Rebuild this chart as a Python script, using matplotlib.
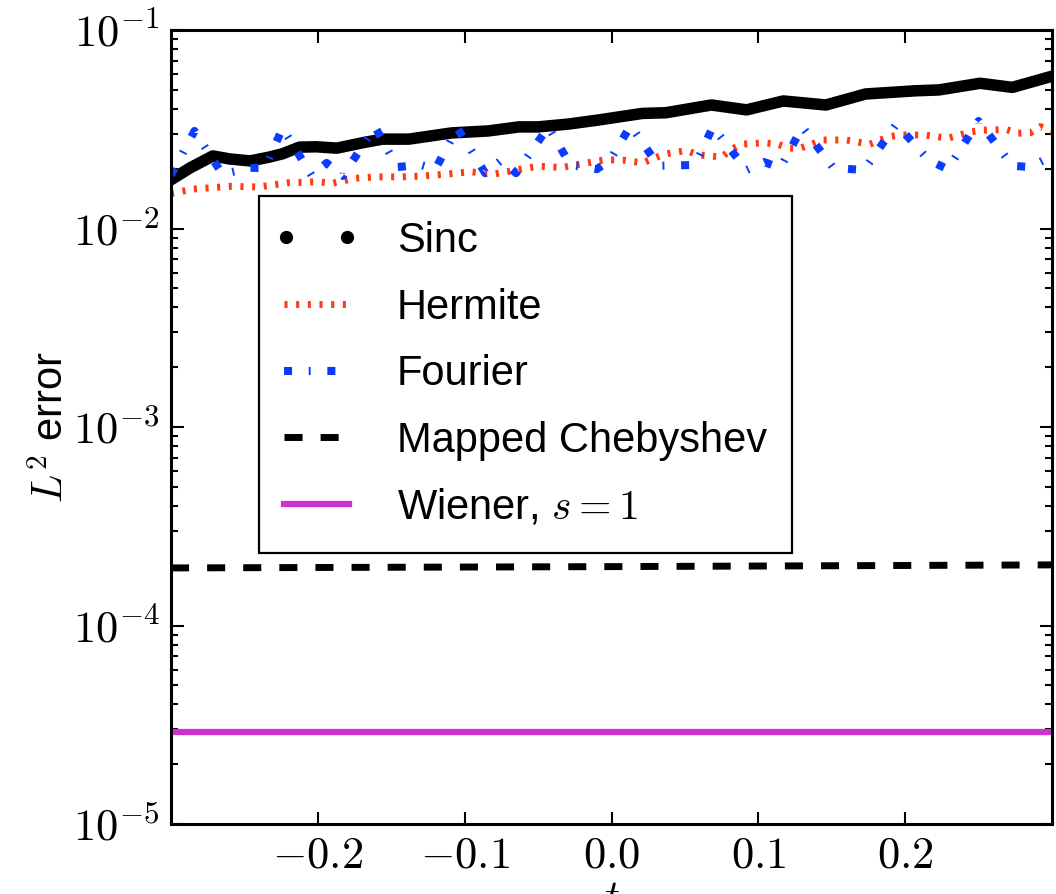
import numpy as np
import matplotlib
matplotlib.use("Agg")
import matplotlib.pyplot as plt
from matplotlib.lines import Line2D
from matplotlib.legend_handler import HandlerLine2D
from matplotlib.ticker import LogLocator, FixedLocator, FuncFormatter

plt.rcParams['font.family'] = ['Liberation Sans', 'DejaVu Sans']
plt.rcParams['mathtext.fontset'] = 'cm'
plt.rcParams['lines.scale_dashes'] = False

# ---- data ----
sinc_t = [-0.300, -0.287, -0.2715, -0.260, -0.246, -0.233, -0.224, -0.2125, -0.201,
          -0.187, -0.170, -0.156, -0.138, -0.109, -0.084, -0.063, -0.050, -0.029,
          -0.009, 0.021, 0.037, 0.068, 0.092, 0.117, 0.146, 0.173, 0.207, 0.223,
          0.251, 0.273, 0.300]
sinc_err = [0.0176, 0.0202, 0.0232, 0.0224, 0.0219, 0.0229, 0.0238, 0.0257, 0.0258,
            0.0254, 0.0270, 0.0282, 0.0282, 0.0303, 0.0310, 0.0325, 0.0325, 0.0336,
            0.0352, 0.0380, 0.0383, 0.0419, 0.0396, 0.0439, 0.0419, 0.0476, 0.0494,
            0.0499, 0.0539, 0.0514, 0.0585]

hermite_t = [-0.300, -0.285, -0.260, -0.240, -0.220, -0.200, -0.190, -0.175, -0.160,
             -0.143, -0.128, -0.112, -0.096, -0.080, -0.065, -0.050, -0.034, -0.018,
             -0.004, 0.008, 0.021, 0.036, 0.051, 0.059, 0.075, 0.082, 0.089, 0.104,
             0.113, 0.121, 0.128, 0.144, 0.160, 0.176, 0.189, 0.197, 0.213, 0.229,
             0.237, 0.245, 0.253, 0.269, 0.277, 0.285, 0.292, 0.300]
hermite_err = [0.0150, 0.0158, 0.0163, 0.0162, 0.0170, 0.0172, 0.0169, 0.0179, 0.0182,
               0.0182, 0.0184, 0.0188, 0.0193, 0.0188, 0.0197, 0.0206, 0.0203, 0.0213,
               0.0222, 0.0221, 0.0214, 0.0237, 0.0247, 0.0235, 0.0229, 0.0251, 0.0266,
               0.0270, 0.0266, 0.0254, 0.0253, 0.0279, 0.0279, 0.0266, 0.0290, 0.0296,
               0.0296, 0.0285, 0.0296, 0.0307, 0.0313, 0.0315, 0.0302, 0.0303, 0.0326,
               0.0310]

fourier_t = [-0.300, -0.284, -0.265, -0.246, -0.236, -0.224, -0.204, -0.194, -0.183,
             -0.161, -0.146, -0.130, -0.120, -0.105, -0.086, -0.075, -0.065, -0.043,
             -0.028, -0.010, -0.001, 0.013, 0.032, 0.057, 0.069, 0.092, 0.104, 0.115,
             0.130, 0.151, 0.172, 0.194, 0.216, 0.229, 0.250, 0.273, 0.285, 0.300]
fourier_err = [0.0186, 0.0310, 0.0188, 0.0202, 0.0202, 0.0321, 0.0184, 0.0214, 0.0184,
               0.0325, 0.0204, 0.0209, 0.0199, 0.0321, 0.0190, 0.0221, 0.0190, 0.0325,
               0.0209, 0.0199, 0.0221, 0.0330, 0.0207, 0.0209, 0.0325, 0.0197, 0.0216,
               0.0202, 0.0325, 0.0202, 0.0197, 0.0336, 0.0221, 0.0199, 0.0348, 0.0207,
               0.0204, 0.0232]

cheb_t = [-0.300, 0.000, 0.300]
cheb_err = [1.95e-4, 1.98e-4, 2.02e-4]

wiener_t = [-0.300, 0.300]
wiener_err = [2.9e-5, 2.9e-5]

xtick_vals = [-0.2, -0.1, 0.0, 0.1, 0.2]
xtick_labels = [r'$-0.2$', r'$-0.1$', r'$0.0$', r'$0.1$', r'$0.2$']

# ---- figure ----
fig = plt.figure(figsize=(10.56, 8.94), dpi=100)
ax = fig.add_axes([171 / 1056, 1 - 824 / 894, 881 / 1056, 794 / 894])

red = '#ff3a14'
blue = '#0a3cff'
magenta = '#cc33cc'
herm_dash = (2.2, 6.2)
four_dash = (5.8, 12.0, 1.4, 12.0)
cheb_dash = (13, 13)

ax.plot(sinc_t, sinc_err, color='k', lw=8.3, solid_capstyle='round',
        solid_joinstyle='round')
ax.plot(hermite_t, hermite_err, color=red, lw=5.0, dashes=herm_dash,
        dash_capstyle='butt')
ax.plot(fourier_t, fourier_err, color=blue, lw=5.8, dashes=four_dash,
        dash_capstyle='butt')
ax.plot(cheb_t, cheb_err, color='k', lw=5.0, dashes=cheb_dash)
ax.plot(wiener_t, wiener_err, color=magenta, lw=4.5)

ax.set_yscale('log')
ax.set_xlim(-0.3, 0.3)
ax.set_ylim(1e-5, 1e-1)

ax.xaxis.set_major_locator(FixedLocator(xtick_vals))
ax.set_xticklabels(xtick_labels)
ax.yaxis.set_major_locator(LogLocator(base=10, numticks=10))
ax.yaxis.set_minor_locator(LogLocator(base=10, subs=np.arange(2, 10), numticks=20))
ax.yaxis.set_major_formatter(FuncFormatter(lambda v, p: r'$10^{%d}$' % round(np.log10(v))))

ax.tick_params(which='both', direction='in', top=True, right=True, labelsize=32,
               width=1.5)
ax.tick_params(which='major', length=9, pad=8)
ax.tick_params(which='minor', length=5)
for sp in ax.spines.values():
    sp.set_linewidth(2.2)

ax.set_xlabel(r'$t$', fontsize=30, labelpad=2)
ax.set_ylabel(r'$L^2$ error', fontsize=30, labelpad=0)

# legend entries, Sinc shown as two dots
sinc_handle = Line2D([], [], color='k', marker='o', ms=8.5, ls='none')
handles = [
    sinc_handle,
    Line2D([], [], color=red, lw=5.0, dashes=herm_dash),
    Line2D([], [], color=blue, lw=5.8, dashes=four_dash),
    Line2D([], [], color='k', lw=5.0, dashes=cheb_dash),
    Line2D([], [], color=magenta, lw=4.5),
]
labels = ['Sinc', 'Hermite', 'Fourier', 'Mapped Chebyshev', r'Wiener, $s=1$']
leg = ax.legend(handles, labels, loc='upper left', bbox_to_anchor=(0.1, 0.791),
                borderaxespad=0, fontsize=30, numpoints=1, handlelength=1.55,
                handletextpad=1.15, labelspacing=0.64, borderpad=0.6,
                fancybox=False, framealpha=1, edgecolor='k',
                handler_map={sinc_handle: HandlerLine2D(numpoints=2, marker_pad=0.05)})
leg.get_frame().set_linewidth(1.6)

fig.savefig('out.png', dpi=100)
